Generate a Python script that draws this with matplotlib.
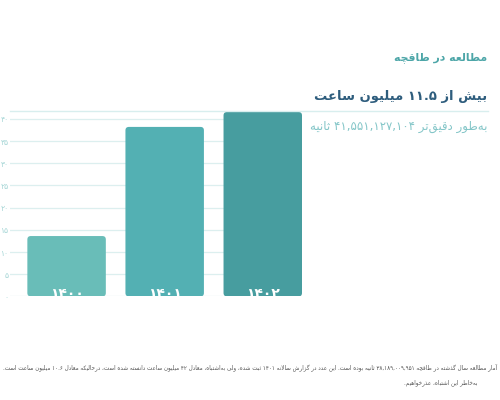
import re
import matplotlib
matplotlib.use("Agg")
import matplotlib.pyplot as plt
from matplotlib.patches import FancyBboxPatch
from matplotlib.lines import Line2D

# داده‌ها
years = ["۱۴۰۰", "۱۴۰۱", "۱۴۰۲"]
hours = [13.6, 38.19, 41.55]
bar_colors = ["#69bdb8", "#53b0b3", "#479d9f"]
yticks = [0, 5, 10, 15, 20, 25, 30, 35, 40]
ytick_labels = ["۰", "۵", "۱۰", "۱۵", "۲۰", "۲۵", "۳۰", "۳۵", "۴۰"]

title = "مطالعه در طاقچه"
headline = "بیش از ۱۱.۵ میلیون ساعت"
subline = "به‌طور دقیق‌تر ۴۱,۵۵۱,۱۲۷,۱۰۴ ثانیه"
note1 = ("آمار مطالعهٔ سال گذشته در طاقچه ۳۸,۱۸۹,۰۰۹,۹۵۱ ثانیه بوده است. "
         "این عدد در گزارش سالانهٔ ۱۴۰۱ ثبت شده، ولی به‌اشتباه، معادل ۴۲ میلیون ساعت "
         "دانسته شده است، درحالیکه معادل ۱۰.۶ میلیون ساعت است.")
note2 = "به‌خاطر این اشتباه، عذرخواهیم."

# شکل‌دهی حروف فارسی (isolated, final, initial, medial)
FORMS = {
    'ا': ('\uFE8D', '\uFE8E', None, None), 'آ': ('\uFE81', '\uFE82', None, None),
    'ب': ('\uFE8F', '\uFE90', '\uFE91', '\uFE92'), 'پ': ('\uFB56', '\uFB57', '\uFB58', '\uFB59'),
    'ت': ('\uFE95', '\uFE96', '\uFE97', '\uFE98'), 'ث': ('\uFE99', '\uFE9A', '\uFE9B', '\uFE9C'),
    'ج': ('\uFE9D', '\uFE9E', '\uFE9F', '\uFEA0'), 'چ': ('\uFB7A', '\uFB7B', '\uFB7C', '\uFB7D'),
    'ح': ('\uFEA1', '\uFEA2', '\uFEA3', '\uFEA4'), 'خ': ('\uFEA5', '\uFEA6', '\uFEA7', '\uFEA8'),
    'د': ('\uFEA9', '\uFEAA', None, None), 'ذ': ('\uFEAB', '\uFEAC', None, None),
    'ر': ('\uFEAD', '\uFEAE', None, None), 'ز': ('\uFEAF', '\uFEB0', None, None),
    'ژ': ('\uFB8A', '\uFB8B', None, None),
    'س': ('\uFEB1', '\uFEB2', '\uFEB3', '\uFEB4'), 'ش': ('\uFEB5', '\uFEB6', '\uFEB7', '\uFEB8'),
    'ص': ('\uFEB9', '\uFEBA', '\uFEBB', '\uFEBC'), 'ض': ('\uFEBD', '\uFEBE', '\uFEBF', '\uFEC0'),
    'ط': ('\uFEC1', '\uFEC2', '\uFEC3', '\uFEC4'), 'ظ': ('\uFEC5', '\uFEC6', '\uFEC7', '\uFEC8'),
    'ع': ('\uFEC9', '\uFECA', '\uFECB', '\uFECC'), 'غ': ('\uFECD', '\uFECE', '\uFECF', '\uFED0'),
    'ف': ('\uFED1', '\uFED2', '\uFED3', '\uFED4'), 'ق': ('\uFED5', '\uFED6', '\uFED7', '\uFED8'),
    'ک': ('\uFB8E', '\uFB8F', '\uFB90', '\uFB91'), 'گ': ('\uFB92', '\uFB93', '\uFB94', '\uFB95'),
    'ل': ('\uFEDD', '\uFEDE', '\uFEDF', '\uFEE0'), 'م': ('\uFEE1', '\uFEE2', '\uFEE3', '\uFEE4'),
    'ن': ('\uFEE5', '\uFEE6', '\uFEE7', '\uFEE8'), 'و': ('\uFEED', '\uFEEE', None, None),
    'ه': ('\uFEE9', '\uFEEA', '\uFEEB', '\uFEEC'), 'ی': ('\uFBFC', '\uFBFD', '\uFBFE', '\uFBFF'),
}
LAM_ALEF = {'ا': ('\uFEFB', '\uFEFC'), 'آ': ('\uFEF5', '\uFEF6')}


def joins_left(c):
    f = FORMS.get(c)
    return f is not None and f[2] is not None


def shape(s):
    out = []
    i = 0
    while i < len(s):
        c = s[i]
        if c not in FORMS:
            if c not in ('\u200c', '\u0654'):
                out.append(c)
            i += 1
            continue
        con_prev = i > 0 and joins_left(s[i - 1])
        if c == 'ل' and i + 1 < len(s) and s[i + 1] in LAM_ALEF:
            lig = LAM_ALEF[s[i + 1]]
            out.append(lig[1] if con_prev else lig[0])
            i += 2
            continue
        con_next = joins_left(c) and i + 1 < len(s) and s[i + 1] in FORMS
        f = FORMS[c]
        if con_prev and con_next:
            out.append(f[3])
        elif con_prev:
            out.append(f[1])
        elif con_next:
            out.append(f[2])
        else:
            out.append(f[0])
        i += 1
    return ''.join(out)


def rtl(s):
    # اعداد چپ‌به‌راست می‌مانند، بقیه برعکس می‌شود
    runs = re.findall(r'[0-9۰-۹](?:[0-9۰-۹.,]*[0-9۰-۹])?|.', shape(s), re.S)
    return ''.join(reversed(runs))


plt.rcParams['font.family'] = ['DejaVu Sans']

fig = plt.figure(figsize=(5, 4), dpi=100)
fig.patch.set_facecolor('white')

ax = fig.add_axes([0.02, 0.259, 0.584, 0.466])
x = list(range(len(years)))
bars = ax.bar(x, hours, width=0.8, color=bar_colors, zorder=2)

for i, b in enumerate(bars):
    fb = FancyBboxPatch((b.get_x(), b.get_y()), b.get_width(), b.get_height(),
                        boxstyle="round,pad=0,rounding_size=0.035", mutation_aspect=22,
                        fc=bar_colors[i], ec='none', zorder=2)
    b.remove()
    ax.add_patch(fb)
    t = ax.text(x[i], -0.35, years[i], ha='center', va='baseline', color='white',
                fontsize=10, fontweight='bold', zorder=3)
    t.set_clip_path(fb)

ax.set_xlim(-0.577, 2.4)
ax.set_ylim(0, 42)
ax.set_yticks(yticks, ytick_labels)
ax.set_xticks([])
ax.tick_params(axis='y', length=0, pad=1, labelsize=5.5, labelcolor='#a6d6d6')
ax.grid(axis='y', color='#dcefef', linewidth=0.9, zorder=0)
for s in ax.spines.values():
    s.set_visible(False)
ax.set_facecolor('none')

# عنوان‌ها
t_title = fig.text(487 / 500, 1 - 60 / 400, rtl(title), ha='right', va='baseline',
                   color='#4da6a8', fontsize=10, fontweight='bold')
t_head = fig.text(487 / 500, 1 - 100 / 400, rtl(headline), ha='right', va='baseline',
                  color='#2e5d7d', fontsize=14, fontweight='bold')
t_sub = fig.text(488 / 500, 1 - 130 / 400, rtl(subline), ha='right', va='baseline',
                 color='#84c6c8', fontsize=11)
fig.add_artist(Line2D([10 / 500, 488 / 500], [1 - 111 / 400, 1 - 111 / 400],
                      color='#d8eeee', linewidth=1))

t_n1 = fig.text(497 / 500, 1 - 369 / 400, rtl(note1), ha='right', va='baseline',
                color='#555555', fontsize=4.5)
t_n2 = fig.text(478 / 500, 1 - 384 / 400, rtl(note2), ha='right', va='baseline',
                color='#555555', fontsize=4.5)

# اندازهٔ فونت را با عرض متن مرجع تنظیم می‌کنیم
fig.canvas.draw()
r = fig.canvas.get_renderer()
for t, w in [(t_title, 94), (t_head, 174), (t_sub, 176), (t_n1, 495)]:
    t.set_fontsize(t.get_fontsize() * w / t.get_window_extent(r).width)
t_n2.set_fontsize(t_n1.get_fontsize())

fig.savefig('out.png', dpi=100)
